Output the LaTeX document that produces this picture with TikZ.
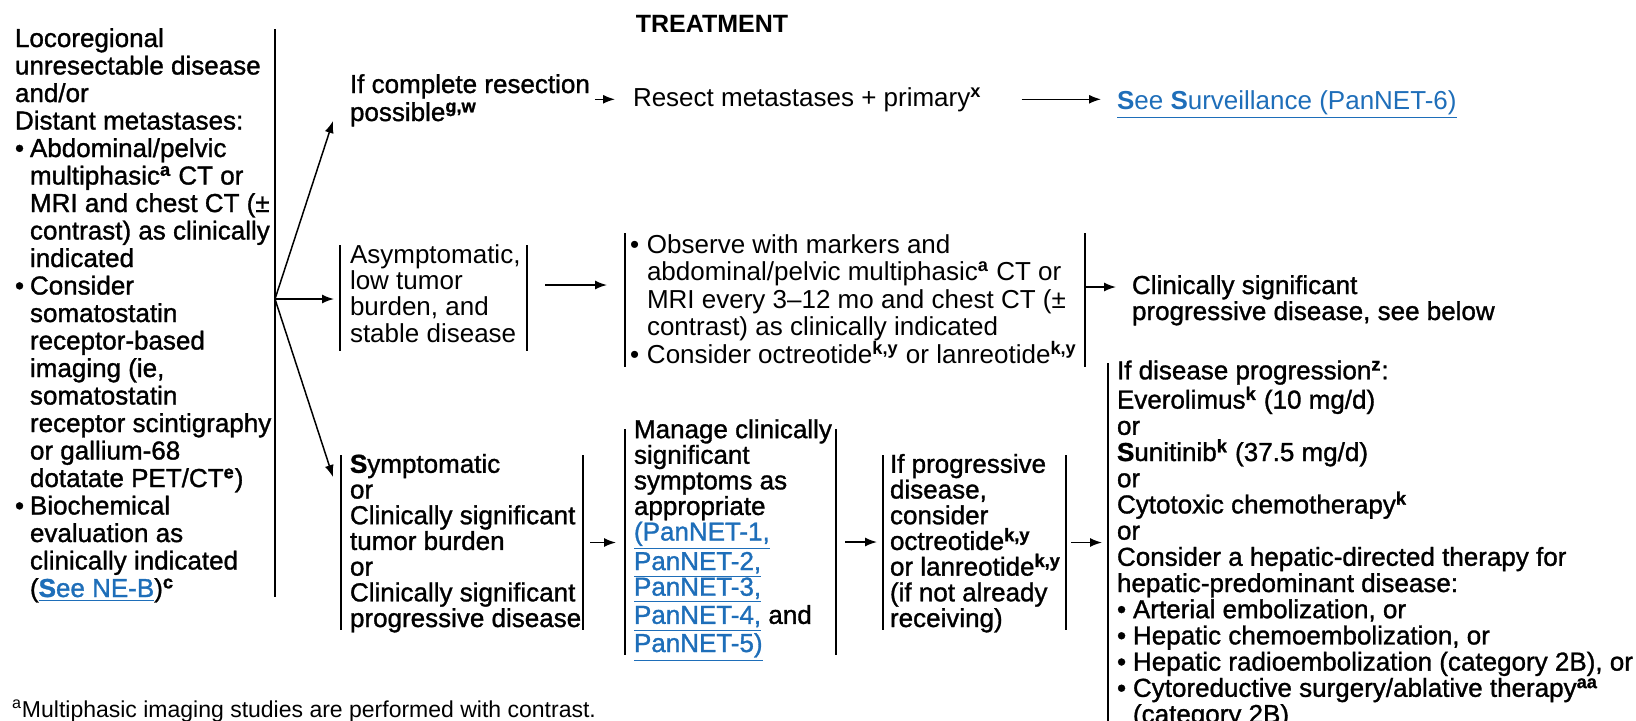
\documentclass[tikz,border=0pt]{standalone}
\usepackage{fontspec}
\setmainfont{Liberation Sans}
\newfontfamily\hv{Liberation Sans}[FakeBold=1.2]
\usetikzlibrary{arrows.meta,calc}
\definecolor{linkblue}{RGB}{30,110,185}
\newcommand\sups[1]{\textsuperscript{\bfseries #1}}
\newcommand\bul[1][7.5pt]{\makebox[#1][l]{•}}
\newcommand\ind[1][7.5pt]{\hspace*{#1}}
\newcommand\lnk[1]{\textcolor{linkblue}{\underline{#1}}}
\begin{document}
\begin{tikzpicture}[x=0.5pt,y=-0.5pt,
  box/.style={draw=none,inner sep=0pt,outer sep=0pt,rectangle},
  txt/.style={inner sep=0pt,outer sep=0pt,align=left,anchor=base west},
  bar/.style={line width=0.8pt},
  arr/.style={line width=0.75pt,-{Latex[length=6pt,width=4.5pt]}}]
\useasboundingbox (0,0) rectangle (1636,720);

% title
\node[font=\bfseries\fontsize{12.5pt}{14pt}\selectfont,anchor=base,inner sep=0pt] (title) at (712,32) {TREATMENT};

% boxes (bars)
\node[box,minimum width=130pt,minimum height=284pt] (locbox) at (145,313) {};
\node[box,minimum width=93.5pt,minimum height=53pt] (asym) at (433.5,298) {};
\node[box,minimum width=230pt,minimum height=67pt] (obs) at (855,300) {};
\node[box,minimum width=121pt,minimum height=87.5pt] (symp) at (462,542.5) {};
\node[box,minimum width=105.5pt,minimum height=113pt] (man) at (730.5,542) {};
\node[box,minimum width=91.5pt,minimum height=87.5pt] (prog) at (974.5,542.5) {};
\node[box,minimum width=264pt,minimum height=179.5pt] (big) at (1372,542.5) {};

\draw[bar] (locbox.north east) -- (locbox.south east);
\draw[bar] (asym.north west) -- (asym.south west) (asym.north east) -- (asym.south east);
\draw[bar] (obs.north west) -- (obs.south west) (obs.north east) -- (obs.south east);
\draw[bar] (symp.north west) -- (symp.south west) (symp.north east) -- (symp.south east);
\draw[bar] (man.north west) -- (man.south west) (man.north east) -- (man.south east);
\draw[bar] (prog.north west) -- (prog.south west) (prog.north east) -- (prog.south east);
\draw[bar] (big.north west) -- (big.south west);

% texts (anchored at the baseline of their last line)
\node[txt,font=\hv\fontsize{13pt}{13.75pt}\selectfont] (loc) at (15,597) {Locoregional\\
unresectable disease\\
and/or\\
Distant metastases:\\
\bul Abdominal/pelvic\\
\ind multiphasic\sups{a} CT or\\
\ind MRI and chest CT (±\\
\ind contrast) as clinically\\
\ind indicated\\
\bul Consider\\
\ind somatostatin\\
\ind receptor-based\\
\ind imaging (ie,\\
\ind somatostatin\\
\ind receptor scintigraphy\\
\ind or gallium-68\\
\ind dotatate PET/CT\sups{e})\\
\bul Biochemical\\
\ind evaluation as\\
\ind clinically indicated\\
\ind (\lnk{\textbf{S}ee NE-B})\sups{c}};

\node[txt,font=\hv\fontsize{13pt}{14pt}\selectfont] (ifc) at (350,121) {If complete resection\\possible\sups{g,w}};
\node[txt,font=\fontsize{13pt}{14pt}\selectfont] (resect) at (633,106) {Resect metastases + primary\sups{x}};
\node[txt,font=\fontsize{13pt}{14pt}\selectfont] (see) at (1117,109) {\lnk{\textbf{S}ee \textbf{S}urveillance (PanNET-6)}};

\node[txt,font=\fontsize{13pt}{13.15pt}\selectfont] (asymt) at (350,342) {Asymptomatic,\\low tumor\\burden, and\\stable disease};

\node[txt,font=\fontsize{13pt}{13.75pt}\selectfont] (obst) at (630,363) {\bul[8.5pt]Observe with markers and\\
\ind[8.5pt]abdominal/pelvic multiphasic\sups{a} CT or\\
\ind[8.5pt]MRI every 3–12 mo and chest CT (±\\
\ind[8.5pt]contrast) as clinically indicated\\
\bul[8.5pt]Consider octreotide\sups{k,y} or lanreotide\sups{k,y}};

\node[txt,font=\hv\fontsize{13pt}{13pt}\selectfont] (clin) at (1132,320) {Clinically significant\\progressive disease, see below};

\node[txt,font=\hv\fontsize{13pt}{12.85pt}\selectfont] (sympt) at (350,627) {\textbf{S}ymptomatic\\or\\Clinically significant\\tumor burden\\or\\Clinically significant\\progressive disease};

\node[txt,font=\hv\fontsize{13pt}{12.8pt}\selectfont] (mant) at (634,652) {Manage clinically\\significant\\symptoms as\\appropriate\\\lnk{(PanNET-1,}\\\lnk{PanNET-2,}\\\lnk{PanNET-3,}\\\lnk{PanNET-4,} and\\\lnk{PanNET-5)}};

\node[txt,font=\hv\fontsize{13pt}{12.85pt}\selectfont] (progt) at (890,627) {If progressive\\disease,\\consider\\octreotide\sups{k,y}\\or lanreotide\sups{k,y}\\(if not already\\receiving)};

\node[txt,font=\hv\fontsize{13pt}{13.1pt}\selectfont] (bigt) at (1117,723) {If disease progression\sups{z}:\\
Everolimus\sups{k} (10 mg/d)\\
or\\
\textbf{S}unitinib\sups{k} (37.5 mg/d)\\
or\\
Cytotoxic chemotherapy\sups{k}\\
or\\
Consider a hepatic-directed therapy for\\
hepatic-predominant disease:\\
\bul[8pt]Arterial embolization, or\\
\bul[8pt]Hepatic chemoembolization, or\\
\bul[8pt]Hepatic radioembolization (category 2B), or\\
\bul[8pt]Cytoreductive surgery/ablative therapy\sups{aa}\\
\ind[8pt](category 2B)};

\node[txt,font=\fontsize{11.5pt}{13pt}\selectfont] (fn) at (12,717) {\textsuperscript{a}Multiphasic imaging studies are performed with contrast.};

% connectors
\coordinate (J) at (275,299);
\coordinate (tA) at (333,121);
\coordinate (tC) at (333,477);
\draw[arr] (J) -- (tA);
\draw[arr] (J) -- ([xshift=-3pt]asym.west |- J);
\draw[arr] (J) -- (tC);
\draw[arr] ([xshift=2.5pt]ifc.east |- resect.west) -- ([xshift=-9pt]resect.west);
\draw[arr] ([xshift=20pt]resect.east) -- ([xshift=-8pt]see.west |- resect.east);
\draw[arr] ([shift={(18,-13)}]asym.east) -- ([shift={(-18,-15)}]obs.west);
\draw[arr] ([shift={(0,-13)}]obs.east) -- ++(31,0);
\draw[arr] ([xshift=3.5pt]symp.east) -- ([xshift=-4.5pt]man.west |- symp.east);
\draw[arr] ([xshift=4.5pt]man.east) -- ([xshift=-3pt]prog.west |- man.east);
\draw[arr] ([xshift=2.5pt]prog.east) -- ([xshift=-3pt]big.west |- prog.east);
\end{tikzpicture}
\end{document}
